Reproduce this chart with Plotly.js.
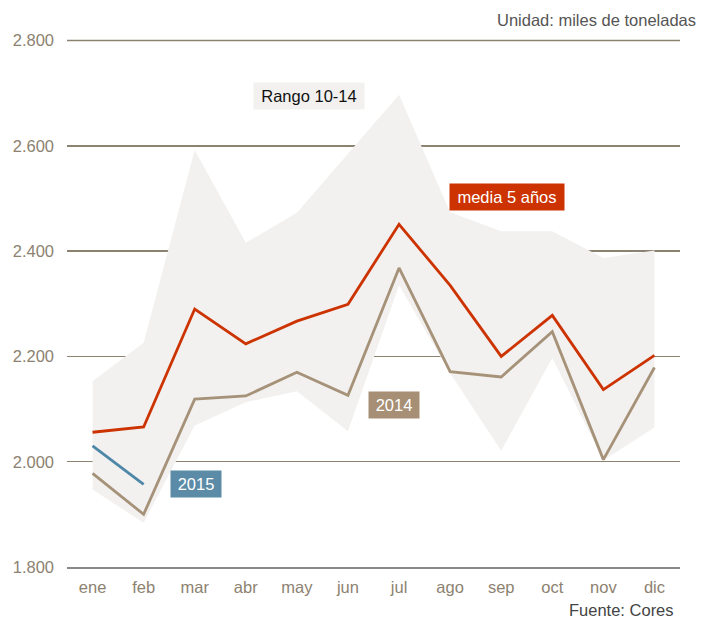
<!DOCTYPE html>
<html>
<head>
<meta charset="utf-8">
<script src="https://cdn.plot.ly/plotly-3.0.1.min.js"></script>
<style>html,body{margin:0;padding:0;background:#fff;}#chart{width:701px;height:620px;}</style>
</head>
<body>
<div id="chart"></div>
<script>
const months = ['ene','feb','mar','abr','may','jun','jul','ago','sep','oct','nov','dic'];
const media5 = [2056, 2066, 2290, 2224, 2267, 2299, 2451, 2335, 2200, 2278, 2137, 2202];
const y2014 = [1978, 1900, 2119, 2125, 2170, 2126, 2368, 2171, 2161, 2247, 2004, 2179];
const y2015 = [2030, 1957];
const rangoMax = [2153, 2226, 2592, 2416, 2473, 2585, 2697, 2474, 2438, 2438, 2387, 2401];
const rangoMin = [1947, 1884, 2069, 2113, 2134, 2058, 2335, 2168, 2021, 2197, 2003, 2065];
const yTickVals = [1800, 2000, 2200, 2400, 2600, 2800];
const yTickText = ['1.800', '2.000', '2.200', '2.400', '2.600', '2.800'];

const FONT = 'Liberation Sans, Arial, sans-serif';
const FS = 16.5;
const RED = '#cc3300', TAN = '#a69279', BLUE = '#4f87a8', BAND = '#f2f1ef', GRID = '#8c8270';

const traces = [
  {x: months, y: rangoMin, type: 'scatter', mode: 'lines', line: {width: 0, color: BAND}, hoverinfo: 'skip', showlegend: false},
  {x: months, y: rangoMax, type: 'scatter', mode: 'lines', fill: 'tonexty', fillcolor: BAND, line: {width: 0, color: BAND}, name: 'Rango 10-14', showlegend: false},
  {x: months, y: y2014, type: 'scatter', mode: 'lines', line: {color: TAN, width: 2.8}, name: '2014', showlegend: false},
  {x: months, y: media5, type: 'scatter', mode: 'lines', line: {color: RED, width: 2.8}, name: 'media 5 años', showlegend: false},
  {x: months.slice(0, y2015.length), y: y2015, type: 'scatter', mode: 'lines', line: {color: BLUE, width: 2.8}, name: '2015', showlegend: false}
];

function box(text, x, y, bg, fg, w) {
  return {text: text, x: x, y: y, xref: 'x', yref: 'y', showarrow: false,
    bgcolor: bg, font: {family: FONT, size: FS, color: fg}, width: w, height: 22, borderpad: 2,
    xanchor: 'center', yanchor: 'middle'};
}

const layout = {
  width: 701, height: 620,
  margin: {l: 67.3, r: 21, t: 38.9, b: 53.3, pad: 0},
  paper_bgcolor: '#ffffff', plot_bgcolor: '#ffffff',
  font: {family: FONT, size: FS, color: GRID},
  showlegend: false,
  xaxis: {type: 'category', range: [-0.5, 11.5], showgrid: false, zeroline: false,
    showline: true, linecolor: '#888888', linewidth: 2, ticks: '', ticklabelstandoff: 4,
    tickfont: {family: FONT, size: FS, color: GRID}, fixedrange: true},
  yaxis: {range: [1800, 2803], tickvals: yTickVals, ticktext: yTickText, showgrid: true,
    gridcolor: GRID, gridwidth: 1.5, zeroline: false, showline: false, ticks: '',
    ticklabelstandoff: 12, tickfont: {family: FONT, size: FS, color: GRID}, fixedrange: true},
  shapes: [
    {type: 'line', layer: 'below', xref: 'paper', x0: 0, x1: 1, yref: 'y', y0: yTickVals[yTickVals.length - 1], y1: yTickVals[yTickVals.length - 1],
      line: {color: GRID, width: 1.5}}
  ],
  annotations: [
    box('Rango 10-14', 4.24, 2694, BAND, '#111111', 106),
    box('media 5 años', 8.11, 2502, RED, '#ffffff', 110),
    box('2014', 5.9, 2107, '#a68f74', '#ffffff', 46),
    box('2015', 2.02, 1957, '#5b8ba7', '#ffffff', 46),
    {text: 'Unidad: miles de toneladas', xref: 'paper', yref: 'paper', x: 1.029, y: 1.0357,
      xanchor: 'right', yanchor: 'middle', showarrow: false, font: {family: FONT, size: FS, color: '#555555'}},
    {text: 'Fuente: Cores', xref: 'paper', yref: 'paper', x: 0.993, y: -0.082,
      xanchor: 'right', yanchor: 'middle', showarrow: false, font: {family: FONT, size: FS, color: '#444444'}}
  ]
};

Plotly.newPlot('chart', traces, layout, {displayModeBar: false, staticPlot: true});
</script>
</body>
</html>
